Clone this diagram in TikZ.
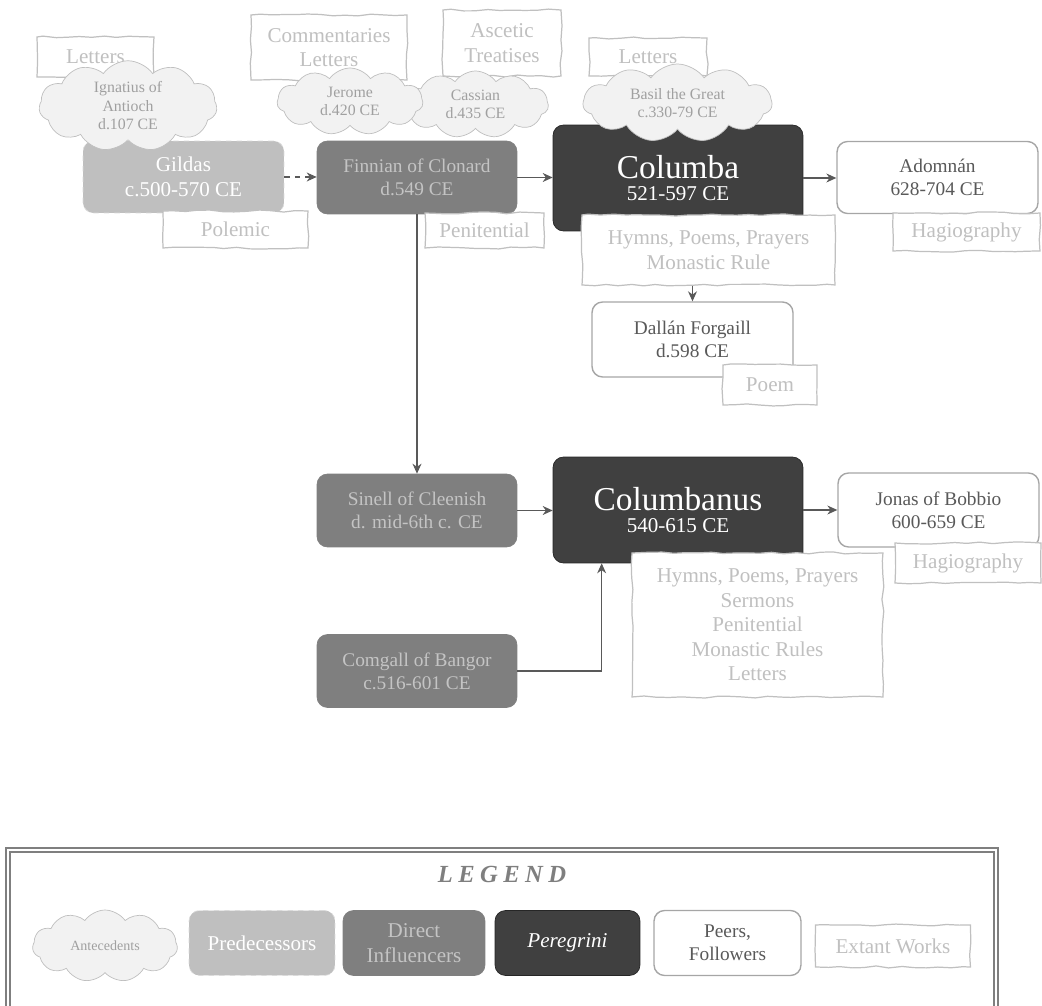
\documentclass[tikz,border=0pt]{standalone}
\usepackage{fontspec}
\setmainfont{Liberation Serif}
\usetikzlibrary{arrows.meta, positioning, calc, shapes.symbols, decorations.pathmorphing}
\definecolor{antefill}{HTML}{F2F2F2}
\definecolor{antetext}{HTML}{A0A0A0}
\definecolor{predfill}{HTML}{BFBFBF}
\definecolor{predline}{HTML}{DADADA}
\definecolor{dirfill}{HTML}{7F7F7F}
\definecolor{dirtext}{HTML}{C4C4C4}
\definecolor{perfill}{HTML}{404040}
\definecolor{peerline}{HTML}{A6A6A6}
\definecolor{peertext}{HTML}{595959}
\definecolor{worktext}{HTML}{C0C0C0}
\definecolor{arrowc}{HTML}{595959}

\begin{document}
\pgfmathsetseed{11}
\begin{tikzpicture}[x=0.02cm, y=-0.02cm, font=\fontsize{11}{13}\selectfont,
  prs/.style={rounded corners=6pt, align=center, inner sep=2pt},
  pre/.style={prs, fill=predfill, draw=predline, dashed, text=white},
  dir/.style={prs, fill=dirfill, draw=dirfill, text=dirtext},
  per/.style={prs, fill=perfill, draw=black!85, text=white},
  peer/.style={prs, fill=white, draw=peerline, line width=0.8pt, text=peertext},
  work/.style={draw=worktext, fill=white, text=worktext, align=center, inner sep=1pt,
               font=\fontsize{12}{14}\selectfont, line width=0.7pt,
               decorate, decoration={random steps, segment length=7pt, amplitude=0.6pt}},
  ante/.style={cloud, cloud puffs=11, cloud puff arc=110, draw=predfill, fill=antefill,
               text=antetext, align=center, inner sep=0pt, font=\fontsize{9}{10.5}\selectfont},
  a/.style={-{Stealth[length=2mm, width=1.8mm]}, draw=arrowc, line width=0.6pt}]
  \useasboundingbox (0,0) rectangle (1042,1006);
  % ---- the people, row of Columba
  \node[pre, minimum width=4.02cm, minimum height=1.44cm, font=\fontsize{12}{14}\selectfont]
       (gildas) at (183.5,177) {Gildas\\c.500-570 CE};
  \node[dir, minimum width=4cm, minimum height=1.46cm] (finnian) at (417,177.5) {Finnian of Clonard\\d.549 CE};
  \node[per, minimum width=5cm, minimum height=2.12cm] (columba) at (678,178)
       {\fontsize{19}{22}\selectfont Columba\\\fontsize{12}{14}\selectfont 521-597 CE};
  \node[peer, minimum width=4.02cm, minimum height=1.44cm] (adomnan) at (937.5,177.5) {Adomnán\\628-704 CE};
  \node[peer, minimum width=4.02cm, minimum height=1.5cm] (dallan) at (692.5,339.5) {Dallán Forgaill\\d.598 CE};
  % ---- the people, row of Columbanus
  \node[dir, minimum width=4cm, minimum height=1.46cm] (sinell) at (417,510.5) {Sinell of Cleenish\\d. mid-6th c. CE};
  \node[per, minimum width=5cm, minimum height=2.12cm] (columbanus) at (678,510)
       {\fontsize{19}{22}\selectfont Columbanus\\\fontsize{12}{14}\selectfont 540-615 CE};
  \node[peer, minimum width=4.02cm, minimum height=1.48cm] (jonas) at (938.5,510) {Jonas of Bobbio\\600-659 CE};
  \node[dir, minimum width=4cm, minimum height=1.46cm] (comgall) at (417,671) {Comgall of Bangor\\c.516-601 CE};
  % ---- connectors
  \draw[a, dashed] (gildas.east) -- (gildas.east -| finnian.west);
  \draw[a] (finnian.east) -- (finnian.east -| columba.west);
  \draw[a] (columba.east) -- (columba.east -| adomnan.west);
  \draw[a] (finnian.south) -- (sinell.north);
  \draw[a] (sinell.east) -- (sinell.east -| columbanus.west);
  \draw[a] (columbanus.east) -- (columbanus.east -| jonas.west);
  \draw[a] (comgall.east) -| ([xshift=0.98cm]columbanus.south west);
  % ---- extant works
  \node[work, minimum width=2.34cm, minimum height=0.8cm] (wLetI) at (95.5,57) {Letters};
  \node[work, minimum width=3.12cm, minimum height=1.3cm] (wComm) at (329,47.5) {Commentaries\\Letters};
  \node[work, minimum width=2.36cm, minimum height=1.32cm] (wAsc) at (502,43) {Ascetic\\Treatises};
  \node[work, minimum width=2.36cm, minimum height=0.76cm] (wLetB) at (648,57) {Letters};
  \node[work, minimum width=2.9cm, minimum height=0.74cm] (wPol) at (235.5,229.5) {Polemic};
  \node[work, minimum width=2.38cm, minimum height=0.7cm] (wPen) at (484.5,230.5) {Penitential};
  \node[work, minimum width=5.06cm, minimum height=1.4cm] (wCol) at (708.5,250) {Hymns, Poems, Prayers\\Monastic Rule};
  \node[work, minimum width=2.94cm, minimum height=0.76cm] (wHagA) at (966.5,232) {Hagiography};
  \node[work, minimum width=1.88cm, minimum height=0.8cm] (wPoem) at (770,385) {Poem};
  \node[work, minimum width=5.02cm, minimum height=2.88cm] (wColb) at (757.5,625)
       {Hymns, Poems, Prayers\\Sermons\\Penitential\\Monastic Rules\\Letters};
  \node[work, minimum width=2.92cm, minimum height=0.8cm] (wHagJ) at (968,563) {Hagiography};
  \draw[a] (wCol.south -| dallan.north) -- (dallan.north);
  % ---- antecedents
  \node[ante, aspect=2.5, minimum width=3.56cm, minimum height=1.36cm] (ignatius) at (128,106) {Ignatius of\\Antioch\\d.107 CE};
  \node[ante, aspect=2.2, minimum width=2.92cm, minimum height=1.34cm] (cassian) at (475.5,104.5) {Cassian\\d.435 CE};
  \node[ante, aspect=2.2, minimum width=2.92cm, minimum height=1.34cm] (jerome) at (350,101.5) {Jerome\\d.420 CE};
  \node[ante, aspect=2.4, minimum width=3.78cm, minimum height=1.56cm] (basil) at (677.5,103) {Basil the Great\\c.330-79 CE};
  % ---- legend
  \draw[draw=dirfill, double=white, double distance=1.4pt, line width=0.8pt]
       (8,1010) -- (8,850) -- (996,850) -- (996,1010);
  \node[text=dirfill, font=\fontsize{14}{16}\selectfont\bfseries\itshape\addfontfeature{LetterSpace=22}]
       (legend) at (502,874) {LEGEND};
  \node[ante, aspect=1.9, minimum width=2.9cm, minimum height=1.44cm, font=\fontsize{8}{9}\selectfont] (lAnte) at (105,946) {Antecedents};
  \node[pre, minimum width=2.92cm, minimum height=1.3cm, font=\fontsize{12}{14}\selectfont] (lPre) at (262,943) {Predecessors};
  \node[dir, minimum width=2.84cm, minimum height=1.3cm, font=\fontsize{12}{14}\selectfont] (lDir) at (414,943) {Direct\\Influencers};
  \node[per, minimum width=2.9cm, minimum height=1.3cm, font=\fontsize{12}{14}\selectfont\itshape] (lPer) at (567.5,943) {Peregrini};
  \node[peer, minimum width=2.94cm, minimum height=1.3cm] (lPeer) at (727.5,943) {Peers,\\Followers};
  \node[work, minimum width=3.1cm, minimum height=0.84cm] (lExt) at (893,946) {Extant Works};
\end{tikzpicture}
\end{document}
